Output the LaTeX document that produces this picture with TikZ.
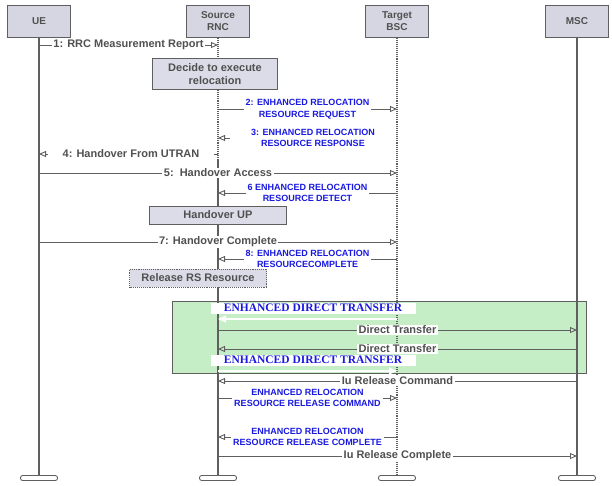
\documentclass[tikz,border=0pt]{standalone}
\usepackage{fontspec}
\setmainfont{Liberation Sans}
\newfontfamily\edtfont{Liberation Serif}
\usetikzlibrary{arrows.meta}

\definecolor{ink}{RGB}{80,80,80}
\definecolor{edgegray}{RGB}{95,95,95}
\definecolor{headfill}{RGB}{214,214,226}
\definecolor{actfill}{RGB}{220,220,232}
\definecolor{msgblue}{RGB}{25,25,225}
\definecolor{groupfill}{RGB}{198,238,198}

\tikzset{
  head/.style={draw=edgegray, line width=0.9, fill=headfill, minimum width=63, minimum height=32,
    align=center, font=\fontsize{10}{12}\selectfont\bfseries, text=ink, inner sep=1},
  foot/.style={draw=edgegray, line width=0.9, fill=white, rounded corners=2.2,
    minimum width=37, minimum height=5, inner sep=0},
  life/.style={draw=edgegray, line width=1.1},
  msg/.style={draw=edgegray, line width=0.9, -{Triangle[open, length=7, width=6]}},
  whitemsg/.style={draw=white, line width=1.3, -{Triangle[length=8, width=7, fill=white]}},
  lbl/.style={fill=white, font=\fontsize{11}{13}\selectfont\bfseries, text=ink, inner xsep=1.5, inner ysep=0.5},
  blbl/.style={fill=white, font=\fontsize{9}{11.5}\selectfont\bfseries, text=msgblue, align=center,
    inner xsep=2, inner ysep=1},
  act/.style={draw=edgegray, line width=0.9, fill=actfill, align=center,
    font=\fontsize{11}{13}\selectfont\bfseries, text=ink, inner sep=1},
  edtband/.style={fill=white, minimum width=205, minimum height=11, inner sep=0,
    font=\edtfont\fontsize{11.5}{12}\selectfont\bfseries, text=msgblue},
  groupbox/.style={draw=edgegray, line width=0.9, fill=groupfill, minimum width=414,
    minimum height=72, inner sep=0}
}

\begin{document}
\begin{tikzpicture}[x=1pt, y=-1pt]
\useasboundingbox (0,0) rectangle (612,485);

% grouped direct-transfer exchange
\node[groupbox] (grp) at (379,337) {};

% lifeline heads and feet
\node[head] (ue)  at (39,21)  {UE};
\node[head] (src) at (218,21) {Source\\RNC};
\node[head] (tgt) at (397,21) {Target\\BSC};
\node[head] (msc) at (577,21) {MSC};

\node[foot] (uef)  at (39,478)  {};
\node[foot] (srcf) at (218,478) {};
\node[foot] (tgtf) at (397,478) {};
\node[foot] (mscf) at (577,478) {};

% lifelines
\coordinate (srcmid) at (218,160);
\draw[life] (ue) -- (uef);
\draw[life, densely dotted] (src) -- (srcmid);
\draw[life] (srcmid) -- (srcf);
\draw[life, densely dotted] (tgt) -- (tgtf);
\draw[life] (msc) -- (mscf);

% 1
\coordinate (m1a) at (39,45);  \coordinate (m1b) at (218,45);
\draw[msg] (m1a) -- node[lbl] (l1) {1: RRC Measurement Report} (m1b);

% relocation decision
\node[act, minimum width=125, minimum height=31] (decide) at (215,74) {Decide to execute\\relocation};

% 2
\coordinate (m2a) at (218,109); \coordinate (m2b) at (397,109);
\draw[msg] (m2a) -- node[blbl] (l2) {2: ENHANCED RELOCATION\\RESOURCE REQUEST} (m2b);

% 3
\coordinate (m3a) at (397,138); \coordinate (m3b) at (218,138);
\draw[msg] (m3a) -- (m3b);
\node[blbl, minimum width=166] (l3) at (313,138) {3: ENHANCED RELOCATION\\RESOURCE RESPONSE};

% 4
\coordinate (m4a) at (218,154); \coordinate (m4b) at (39,154);
\draw[msg] (m4a) -- (m4b);
\node[lbl, minimum width=166] (l4) at (131,154) {4: Handover From UTRAN};

% 5
\coordinate (m5a) at (39,173); \coordinate (m5b) at (397,173);
\draw[msg] (m5a) -- node[lbl] (l5) {5:\ \ Handover Access} (m5b);

% 6
\coordinate (m6a) at (397,193); \coordinate (m6b) at (218,193);
\draw[msg] (m6a) -- node[blbl] (l6) {6 ENHANCED RELOCATION\\RESOURCE DETECT} (m6b);

\node[act, minimum width=137, minimum height=18] (hup) at (218,215) {Handover UP};

% 7
\coordinate (m7a) at (39,242); \coordinate (m7b) at (397,242);
\draw[msg] (m7a) -- node[lbl] (l7) {7: Handover Complete} (m7b);

% 8
\coordinate (m8a) at (397,259); \coordinate (m8b) at (218,259);
\draw[msg] (m8a) -- node[blbl] (l8) {8: ENHANCED RELOCATION\\RESOURCECOMPLETE} (m8b);

\node[act, densely dotted, minimum width=137, minimum height=18] (rel) at (198,278) {Release RS Resource};

% enhanced direct transfer exchange
\node[edtband] (edt1) at (313,308) {ENHANCED DIRECT TRANSFER};
\coordinate (w1a) at (397,319); \coordinate (w1b) at (218,319);
\draw[whitemsg] (w1a) -- (w1b);

\coordinate (d1a) at (218,330); \coordinate (d1b) at (577,330);
\draw[msg] (d1a) -- node[lbl] (ld1) {Direct Transfer} (d1b);
\coordinate (d2a) at (577,349); \coordinate (d2b) at (218,349);
\draw[msg] (d2a) -- node[lbl] (ld2) {Direct Transfer} (d2b);

\node[edtband] (edt2) at (313,360) {ENHANCED DIRECT TRANSFER};
\coordinate (w2a) at (218,371); \coordinate (w2b) at (397,371);
\draw[whitemsg] (w2a) -- (w2b);

% release
\coordinate (r1a) at (577,381); \coordinate (r1b) at (218,381);
\draw[msg] (r1a) -- node[lbl] (lr1) {Iu Release Command} (r1b);

\coordinate (r2a) at (218,398); \coordinate (r2b) at (397,398);
\draw[msg] (r2a) -- node[blbl] (lr2) {ENHANCED RELOCATION\\RESOURCE RELEASE COMMAND} (r2b);

\coordinate (r3a) at (397,437); \coordinate (r3b) at (218,437);
\draw[msg] (r3a) -- node[blbl] (lr3) {ENHANCED RELOCATION\\RESOURCE RELEASE COMPLETE} (r3b);

\coordinate (r4a) at (218,456); \coordinate (r4b) at (577,456);
\draw[msg] (r4a) -- node[lbl] (lr4) {Iu Release Complete} (r4b);

\end{tikzpicture}
\end{document}
